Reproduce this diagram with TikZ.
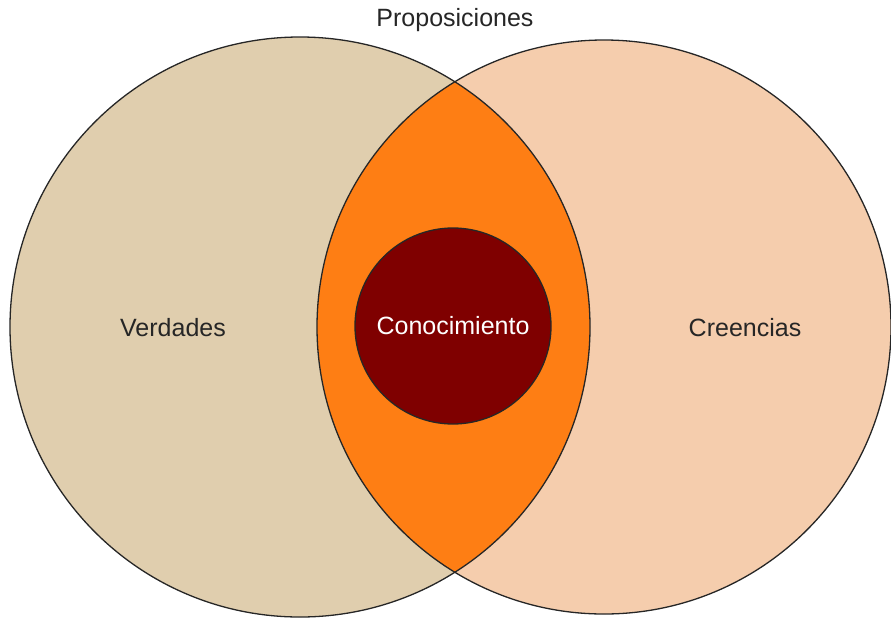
\documentclass[tikz,border=0pt]{standalone}
\usepackage{fontspec}
\setmainfont{Liberation Sans}
\definecolor{truecol}{HTML}{E0CEAE}
\definecolor{beliefcol}{HTML}{F5CDAD}
\definecolor{lenscol}{HTML}{FE7E14}
\definecolor{knowcol}{HTML}{7F0000}
\tikzset{
  setline/.style={draw=black!85, line width=1.3pt},
  lbl/.style={font=\fontsize{25}{29}\selectfont, text=black!85}
}
\begin{document}
\begin{tikzpicture}[x=1pt,y=-1pt]
\useasboundingbox (0,0) rectangle (891,619);
\coordinate (cl) at (300,327);
\coordinate (cr) at (604,327);
\fill[truecol] (cl) circle (290);
\fill[beliefcol] (cr) circle (287);
\begin{scope}
  \clip (cl) circle (290);
  \fill[lenscol] (cr) circle (287);
\end{scope}
\draw[setline] (cl) circle (290);
\draw[setline] (cr) circle (287);
\node[setline, circle, fill=knowcol, minimum size=196pt, inner sep=0pt] (k) at (453,326) {};
\node[lbl, text=white] (kt) at (k) {Conocimiento};
\node[lbl] (v) at (173,328) {Verdades};
\node[lbl] (c) at (745,328) {Creencias};
\node[lbl] (p) at (455,20) {Proposiciones};
\end{tikzpicture}
\end{document}
